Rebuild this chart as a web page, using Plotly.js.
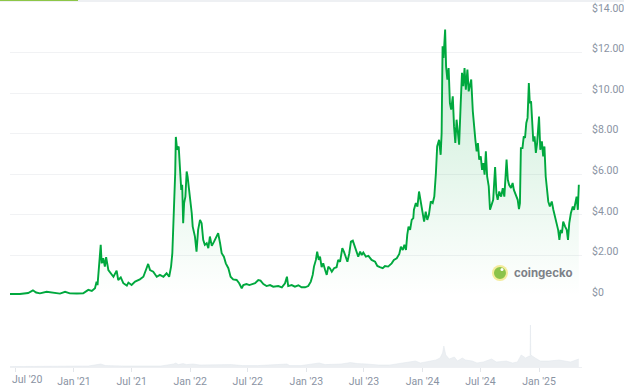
<!DOCTYPE html>
<html>
<head>
<meta charset="utf-8">
<script src="https://cdn.plot.ly/plotly-3.0.1.min.js"></script>
<style>
html,body{margin:0;padding:0;background:#fff;}
#chart{width:624px;height:390px;}
</style>
</head>
<body>
<div id="chart"></div>
<script>
// Price (USD)
const priceDates = [
"2020-06-14","2020-07-15","2020-08-10","2020-08-25","2020-09-04","2020-09-16","2020-10-07","2020-10-28","2020-11-18","2020-12-04",
"2020-12-19","2021-01-10","2021-01-30","2021-02-15","2021-02-26","2021-03-08","2021-03-13","2021-03-16","2021-03-21","2021-03-26",
"2021-03-29","2021-04-03","2021-04-08","2021-04-12","2021-04-19","2021-04-27","2021-05-05","2021-05-15","2021-05-20","2021-05-28",
"2021-06-05","2021-06-16","2021-06-21","2021-07-01","2021-07-12","2021-07-27","2021-08-07","2021-08-17","2021-08-22","2021-08-28",
"2021-09-07","2021-09-18","2021-09-28","2021-10-09","2021-10-19","2021-10-27","2021-11-02","2021-11-06","2021-11-09","2021-11-12",
"2021-11-15","2021-11-17","2021-11-21","2021-11-26","2021-11-30","2021-12-04","2021-12-07","2021-12-10","2021-12-13","2021-12-17",
"2021-12-21","2021-12-24","2021-12-28","2021-12-31","2022-01-06","2022-01-09","2022-01-16","2022-01-21","2022-01-26","2022-02-01",
"2022-02-06","2022-02-11","2022-02-16","2022-02-22","2022-02-27","2022-03-04","2022-03-10","2022-03-17","2022-03-25","2022-03-30",
"2022-04-05","2022-04-10","2022-04-17","2022-04-23","2022-05-01","2022-05-08","2022-05-16","2022-05-27","2022-06-04","2022-06-12",
"2022-06-17","2022-06-27","2022-07-06","2022-07-13","2022-07-24","2022-08-03","2022-08-10","2022-08-19","2022-08-29","2022-09-09",
"2022-09-19","2022-10-05","2022-10-16","2022-10-26","2022-11-01","2022-11-05","2022-11-16","2022-11-26","2022-12-07","2022-12-17",
"2022-12-28","2023-01-07","2023-01-15","2023-01-21","2023-01-25","2023-01-31","2023-02-04","2023-02-09","2023-02-13","2023-02-18",
"2023-02-23","2023-03-01","2023-03-06","2023-03-11","2023-03-16","2023-03-22","2023-03-29","2023-04-06","2023-04-11","2023-04-17",
"2023-04-20","2023-04-24","2023-04-29","2023-05-05","2023-05-10","2023-05-16","2023-05-21","2023-05-27","2023-06-01","2023-06-06",
"2023-06-13","2023-06-19","2023-06-24","2023-06-29","2023-07-07","2023-07-15","2023-07-25","2023-08-05","2023-08-12","2023-08-20",
"2023-08-29","2023-09-05","2023-09-15","2023-09-26","2023-10-03","2023-10-12","2023-10-20","2023-10-25","2023-10-31","2023-11-05",
"2023-11-10","2023-11-14","2023-11-18","2023-11-23","2023-11-28","2023-12-03","2023-12-05","2023-12-11","2023-12-16","2023-12-21",
"2023-12-26","2023-12-31","2024-01-06","2024-01-11","2024-01-16","2024-01-21","2024-01-27","2024-02-02","2024-02-07","2024-02-12",
"2024-02-16","2024-02-22","2024-02-27","2024-03-01","2024-03-04","2024-03-07","2024-03-12","2024-03-15","2024-03-19","2024-03-23",
"2024-03-27","2024-03-31","2024-04-05","2024-04-09","2024-04-13","2024-04-17","2024-04-21","2024-04-25","2024-04-30","2024-05-04",
"2024-05-08","2024-05-12","2024-05-16","2024-05-21","2024-05-25","2024-05-29","2024-06-02","2024-06-07","2024-06-11","2024-06-15",
"2024-06-19","2024-06-23","2024-06-27","2024-07-02","2024-07-06","2024-07-10","2024-07-14","2024-07-18","2024-07-22","2024-07-27",
"2024-07-31","2024-08-05","2024-08-10","2024-08-16","2024-08-20","2024-08-24","2024-08-29","2024-09-04","2024-09-09","2024-09-14",
"2024-09-18","2024-09-21","2024-09-25","2024-09-29","2024-10-05","2024-10-10","2024-10-14","2024-10-21","2024-10-26","2024-10-30",
"2024-11-02","2024-11-05","2024-11-10","2024-11-14","2024-11-18","2024-11-22","2024-11-26","2024-11-30","2024-12-03","2024-12-07",
"2024-12-11","2024-12-14","2024-12-18","2024-12-22","2024-12-26","2025-01-01","2025-01-05","2025-01-10","2025-01-14","2025-01-18",
"2025-01-22","2025-01-26","2025-01-30","2025-02-04","2025-02-10","2025-02-15","2025-02-20","2025-02-25","2025-03-02","2025-03-06",
"2025-03-10","2025-03-14","2025-03-18","2025-03-24","2025-03-29","2025-04-02","2025-04-06","2025-04-11","2025-04-17","2025-04-21",
"2025-04-25","2025-04-29","2025-05-03","2025-05-06"
];
const priceValues = [
0.10,0.10,0.15,0.28,0.17,0.13,0.21,0.15,0.12,0.21,
0.13,0.12,0.13,0.30,0.25,0.38,0.71,0.54,1.45,2.52,
1.61,1.86,1.45,1.91,1.28,1.09,0.95,1.25,0.79,0.92,
0.63,0.51,0.66,0.54,0.71,0.82,0.95,1.37,1.58,1.28,
1.20,0.95,1.04,0.95,1.12,0.95,1.45,2.11,3.26,4.58,
6.06,7.84,7.21,7.37,6.22,5.23,5.48,3.59,4.58,4.90,
6.14,5.89,5.32,4.99,4.08,3.42,2.93,2.19,3.26,3.75,
3.59,2.77,2.52,2.60,2.36,2.93,2.47,2.68,2.93,3.10,
2.60,2.11,1.94,1.61,1.37,0.95,0.82,0.79,0.63,0.38,
0.54,0.59,0.54,0.59,0.63,0.79,0.76,0.59,0.49,0.54,
0.46,0.49,0.43,0.63,0.95,0.49,0.54,0.46,0.53,0.43,
0.43,0.49,0.71,1.04,1.45,1.78,2.19,1.78,1.94,1.42,
1.61,1.28,1.04,1.45,1.37,1.20,1.37,1.42,1.78,1.69,
2.02,2.36,2.19,1.86,1.69,2.11,2.68,2.73,2.52,2.27,
1.94,2.19,2.02,2.14,1.94,1.98,1.78,1.69,1.48,1.42,
1.37,1.48,1.45,1.61,1.78,1.86,2.07,2.43,2.27,2.52,
2.27,3.01,3.42,3.26,3.75,3.84,4.25,4.58,4.41,5.15,
4.66,4.25,3.67,4.16,3.75,4.00,4.66,4.58,4.90,6.06,
7.37,7.70,6.96,8.03,12.31,11.74,13.14,11.32,10.67,11.24,
9.51,9.19,9.84,8.36,7.54,8.69,8.20,7.46,9.51,11.00,
10.34,11.24,10.17,11.16,10.09,10.42,10.67,9.10,8.20,7.70,
7.13,7.54,6.72,6.88,6.22,6.55,5.98,7.13,5.89,5.40,
4.25,4.49,4.74,6.36,5.07,4.74,5.15,4.90,5.32,4.90,
6.22,6.72,5.73,5.48,5.32,5.57,5.23,4.99,4.74,4.28,
4.58,7.29,7.29,7.87,7.79,8.53,8.78,10.50,9.51,9.60,
8.69,7.62,7.87,7.05,7.54,8.85,7.21,7.62,6.88,7.37,
5.89,5.07,4.66,4.41,4.66,4.25,3.92,3.67,3.26,2.77,
3.26,3.10,3.67,3.42,3.26,2.77,3.59,4.08,4.41,4.25,
4.66,4.90,4.25,5.48
];

// Trading volume (USD millions), estimated from the faint bars at the bottom
const volumeDates = [
"2020-06-14","2020-09-01","2020-12-01","2021-02-15","2021-03-26","2021-04-10","2021-06-01","2021-08-20","2021-10-01","2021-11-10",
"2021-11-17","2021-11-25","2021-12-10","2021-12-20","2022-01-10","2022-02-01","2022-03-10","2022-05-10","2022-06-15","2022-08-01",
"2022-11-01","2022-11-10","2022-12-15","2023-01-25","2023-02-10","2023-03-01","2023-04-20","2023-05-20","2023-06-10","2023-07-10",
"2023-08-15","2023-09-20","2023-10-25","2023-11-15","2023-12-10","2023-12-25","2024-01-15","2024-02-12","2024-02-25","2024-03-04",
"2024-03-08","2024-03-14","2024-03-25","2024-04-10","2024-04-20","2024-05-05","2024-05-15","2024-06-05","2024-06-20","2024-07-10",
"2024-08-05","2024-08-20","2024-09-20","2024-10-10","2024-10-25","2024-11-06","2024-11-20","2024-12-01","2024-12-04","2024-12-05",
"2024-12-06","2024-12-20","2025-01-05","2025-02-01","2025-03-05","2025-04-10","2025-05-06"
];
const volumeValues = [
2,3,2,5,15,7,5,7,5,15,
20,12,17,12,15,10,12,12,7,7,
15,7,7,17,20,12,15,22,17,15,
10,10,20,25,30,20,25,35,45,70,
105,60,40,50,30,45,35,30,20,25,
40,25,30,20,25,60,45,55,50,210,
60,45,30,30,35,25,40
];

const yTickVals = [0,2,4,6,8,10,12,14];
const yTickText = ["$0","$2.00","$4.00","$6.00","$8.00","$10.00","$12.00","$14.00"];

const xTickVals = ["2020-07-01","2021-01-01","2021-07-01","2022-01-01","2022-07-01","2023-01-01","2023-07-01","2024-01-01","2024-07-01","2025-01-01"];
const xTickText = ["","Jan '21","Jul '21","Jan '22","Jul '22","Jan '23","Jul '23","Jan '24","Jul '24","Jan '25"];
const firstTickLabel = "Jul '20";

const green = "#00a83e";

const traces = [
  {
    x: volumeDates, y: volumeValues, type: "scatter", mode: "lines",
    line: {color: "rgba(226,230,236,0.9)", width: 0.6, shape: "linear"},
    fill: "tozeroy", fillcolor: "rgba(234,237,241,0.9)",
    xaxis: "x", yaxis: "y2", hoverinfo: "skip", showlegend: false
  },
  {
    x: priceDates, y: priceValues, type: "scatter", mode: "lines",
    line: {color: green, width: 1.9},
    fill: "tozeroy",
    fillgradient: {type: "vertical", colorscale: [[0, "rgba(0,168,62,0.0)"], [1, "rgba(0,168,62,0.22)"]]},
    xaxis: "x", yaxis: "y", showlegend: false
  }
];

const gridColor = "#f1f2f4";
const labelFont = {family: "Roboto, Inter, sans-serif", size: 10.5, color: "#8a93a3"};

const layout = {
  width: 624, height: 390,
  margin: {l: 10, r: 42, t: 12, b: 23},
  paper_bgcolor: "#ffffff", plot_bgcolor: "#ffffff",
  showlegend: false,
  xaxis: {
    type: "date", anchor: "y2",
    range: ["2020-06-14", "2025-05-16"],
    tickvals: xTickVals, ticktext: xTickText,
    ticks: "outside", ticklen: 4, tickcolor: "#e3e6ea", tickwidth: 1,
    showgrid: false, zeroline: false,
    showline: true, linecolor: "#eef0f3", linewidth: 1,
    tickfont: labelFont, fixedrange: true
  },
  yaxis: {
    domain: [0.2, 1], range: [0, 14],
    side: "right", anchor: "x",
    tickvals: yTickVals, ticktext: yTickText,
    ticks: "", ticklabelstandoff: 9, ticklabelshift: -4,
    showgrid: true, gridcolor: gridColor, gridwidth: 1,
    zeroline: false, showline: false,
    tickfont: labelFont, fixedrange: true
  },
  yaxis2: {
    domain: [0, 0.2], range: [0, 355], anchor: "x",
    showticklabels: false, showgrid: false, zeroline: false, showline: false,
    fixedrange: true
  },
  shapes: [
    {type: "rect", xref: "paper", yref: "paper", x0: -0.02, x1: 1.08, y0: 1.0282, y1: 1.04,
     fillcolor: "#eef0f3", line: {width: 0}, layer: "above"},
    {type: "rect", xref: "paper", yref: "paper", x0: -0.02, x1: 0.1189, y0: 1.031, y1: 1.04,
     fillcolor: "#8dc647", line: {width: 0}, layer: "above"},
    {type: "circle", xref: "paper", yref: "paper", x0: 0.8426, x1: 0.8706, y0: 0.2423, y1: 0.2873,
     fillcolor: "#f4ec9c", line: {width: 0}, layer: "above"},
    {type: "circle", xref: "paper", yref: "paper", x0: 0.8461, x1: 0.8671, y0: 0.2479, y1: 0.2817,
     fillcolor: "#8bc34a", line: {width: 0}, layer: "above"},
    {type: "circle", xref: "paper", yref: "paper", x0: 0.8575, x1: 0.8628, y0: 0.2704, y1: 0.2789,
     fillcolor: "#ffffff", line: {width: 0}, layer: "above"}
  ],
  annotations: [
    {xref: "paper", yref: "paper", x: 0.877, y: 0.265, xanchor: "left", yanchor: "middle",
     text: "<b>coingecko</b>", showarrow: false,
     font: {family: "Inter, 'Noto Sans', sans-serif", size: 11.5, color: "#7d8188"}},
    {xref: "x", yref: "paper", x: xTickVals[0], xshift: -5, y: -0.0366, xanchor: "left", yanchor: "middle",
     text: firstTickLabel, showarrow: false, font: labelFont}
  ]
};

Plotly.newPlot("chart", traces, layout, {staticPlot: true, displayModeBar: false});
</script>
</body>
</html>
